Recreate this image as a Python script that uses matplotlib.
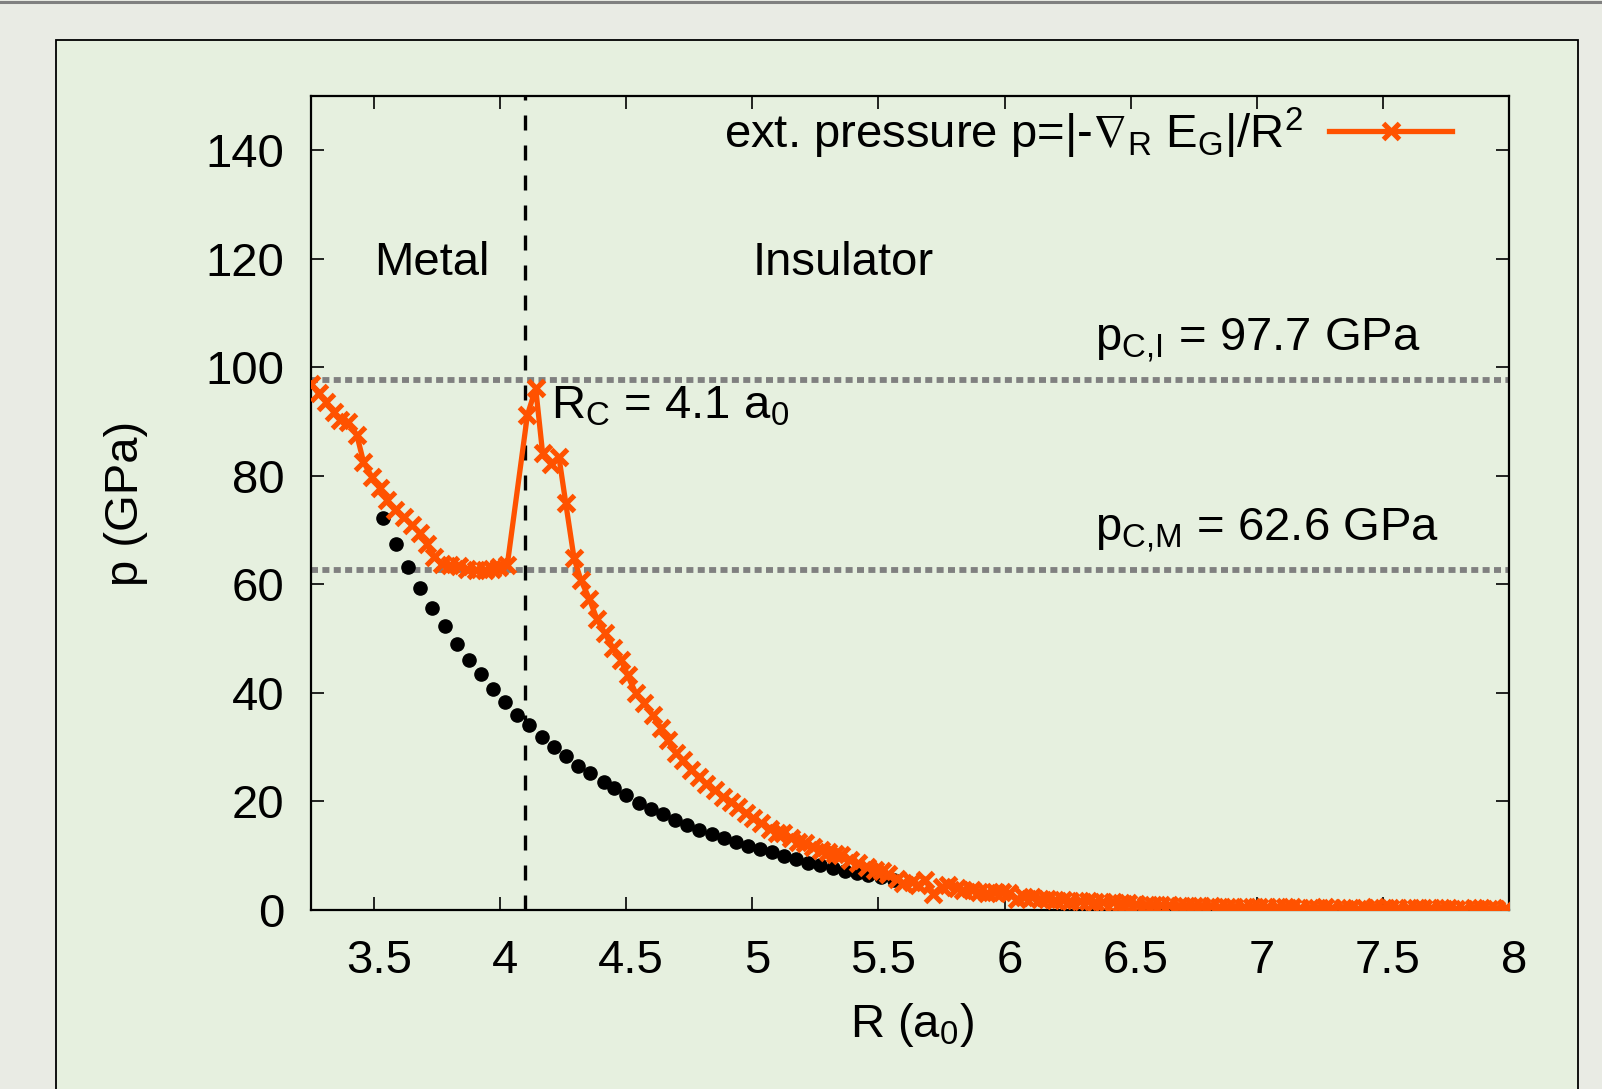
import matplotlib
matplotlib.use("Agg")
import matplotlib.pyplot as plt
from matplotlib import ticker
from matplotlib.patches import Rectangle
from matplotlib.lines import Line2D
from matplotlib.transforms import ScaledTranslation

plt.rcParams['font.family'] = ['Liberation Sans', 'DejaVu Sans']
plt.rcParams['mathtext.fontset'] = 'custom'
plt.rcParams['mathtext.rm'] = 'Liberation Sans'
plt.rcParams['mathtext.it'] = 'Liberation Sans'
plt.rcParams['mathtext.fallback'] = 'stixsans'

# pressure curve p = |-grad_R E_G| / R^2
r_p = [3.250, 3.280, 3.310, 3.340, 3.365, 3.398, 3.432, 3.458, 3.491, 3.524,
       3.551, 3.584, 3.617, 3.650, 3.683, 3.710, 3.736, 3.770, 3.803, 3.836,
       3.870, 3.905, 3.940, 3.968, 3.995, 4.028, 4.108, 4.141, 4.168, 4.202,
       4.233, 4.260, 4.293, 4.320, 4.353, 4.383, 4.415, 4.448, 4.479, 4.505,
       4.538, 4.571, 4.605, 4.638, 4.664, 4.697, 4.724, 4.757, 4.790, 4.817,
       4.850, 4.883, 4.916, 4.943, 4.976, 5.002, 5.036, 5.069, 5.096, 5.122,
       5.155, 5.182, 5.208, 5.241, 5.274, 5.300, 5.327, 5.353, 5.387, 5.420,
       5.453, 5.486, 5.512, 5.539, 5.572, 5.599, 5.632, 5.658, 5.685, 5.718,
       5.751, 5.777, 5.810, 5.837, 5.870, 5.897, 5.930, 5.963, 5.990, 6.016,
       6.050, 6.076, 6.109, 6.142, 6.169, 6.200, 6.230, 6.260, 6.300, 6.330,
       6.360, 6.390, 6.430, 6.460, 6.490, 6.520, 6.560, 6.590, 6.620, 6.650,
       6.690, 6.720, 6.750, 6.780, 6.820, 6.850, 6.880, 6.910, 6.950, 6.980,
       7.010, 7.040, 7.080, 7.110, 7.140, 7.170, 7.210, 7.240, 7.270, 7.300,
       7.340, 7.370, 7.400, 7.430, 7.470, 7.500, 7.530, 7.560, 7.600, 7.630,
       7.660, 7.690, 7.730, 7.760, 7.790, 7.820, 7.860, 7.890, 7.920, 7.950,
       7.990]
p_ext = [97.0, 95.2, 93.6, 91.8, 90.3, 89.9, 87.5, 82.6, 79.8, 77.7,
         75.5, 73.7, 72.4, 70.9, 69.4, 67.5, 65.1, 63.8, 63.5, 63.4,
         62.9, 62.7, 62.7, 62.9, 63.2, 63.5, 91.2, 96.1, 84.3, 82.2,
         83.5, 75.0, 64.8, 60.8, 57.4, 53.7, 51.0, 48.2, 46.1, 43.3,
         39.9, 38.1, 35.9, 33.5, 31.3, 28.9, 27.6, 25.8, 24.6, 23.3,
         22.1, 20.9, 19.9, 19.0, 17.8, 16.9, 16.0, 15.0, 14.1, 14.1,
         13.2, 12.6, 12.3, 11.7, 11.1, 10.7, 10.4, 10.1, 9.3, 8.6,
         8.0, 7.4, 7.1, 6.7, 5.8, 4.9, 5.2, 4.6, 5.5, 3.0,
         4.3, 4.6, 4.0, 3.7, 3.7, 3.4, 3.1, 3.4, 3.4, 3.1,
         2.1, 2.4, 2.4, 2.1, 2.1, 1.8, 1.8, 1.7, 1.6, 1.6,
         1.5, 1.5, 1.4, 1.3, 1.2, 1.1, 1.0, 1.0, 0.9, 0.9,
         0.8, 0.8, 0.7, 0.7, 0.7, 0.6, 0.6, 0.6, 0.6, 0.5,
         0.5, 0.5, 0.5, 0.5, 0.5, 0.4, 0.4, 0.4, 0.5, 0.3,
         0.4, 0.4, 0.2, 0.3, 0.5, 0.4, 0.4, 0.3, 0.3, 0.3,
         0.3, 0.3, 0.3, 0.3, 0.2, 0.2, 0.3, 0.3, 0.2, 0.2,
         0.3]

# black dotted reference curve
r_fit = [3.537, 3.587, 3.636, 3.683, 3.731, 3.780, 3.828, 3.877, 3.925, 3.972,
         4.020, 4.068, 4.116, 4.165, 4.212, 4.260, 4.309, 4.357, 4.410, 4.452,
         4.500, 4.549, 4.598, 4.646, 4.693, 4.741, 4.789, 4.838, 4.887, 4.935,
         4.982, 5.031, 5.079, 5.125, 5.174, 5.222, 5.270, 5.318, 5.367, 5.414,
         5.460, 5.510, 5.560]
p_fit = [72.2, 67.5, 63.2, 59.4, 55.7, 52.4, 49.1, 46.1, 43.4, 40.7,
         38.4, 36.0, 34.0, 31.9, 30.1, 28.4, 26.6, 25.2, 23.6, 22.4,
         21.1, 19.8, 18.7, 17.6, 16.6, 15.7, 14.8, 14.0, 13.2, 12.5,
         11.8, 11.2, 10.6, 9.9, 9.4, 8.7, 8.3, 7.8, 7.2, 6.8,
         6.4, 6.0, 5.6]

R_c = 4.1
p_CI = 97.7
p_CM = 62.6
x_ticks = [3.5, 4, 4.5, 5, 5.5, 6, 6.5, 7, 7.5, 8]
y_ticks = [0, 20, 40, 60, 80, 100, 120, 140]

bg_outer = '#e9ebe4'
bg_panel = '#e6f0df'
orange = '#ff5200'
FS = 34

fig = plt.figure(figsize=(16.02, 10.89), dpi=100, facecolor=bg_outer)
W, H = 1602, 1089

# panel behind the plot
fig.add_artist(Rectangle((55.5 / W, -0.05), (1578 - 55.5) / W, 1.05 - 40 / H,
                         transform=fig.transFigure, facecolor=bg_panel,
                         edgecolor='black', lw=1.3, zorder=0))
fig.add_artist(Line2D([0, 1], [1 - 1.5 / H, 1 - 1.5 / H], transform=fig.transFigure,
                      color='#808080', lw=2.2))

ax = fig.add_axes([311 / W, 1 - 910 / H, 1198 / W, 814 / H])
ax.set_facecolor(bg_panel)

ax.axhline(p_CI, color='#808080', lw=4.2, ls=(0, (1.2, 0.75)), zorder=1)
ax.axhline(p_CM, color='#808080', lw=4.2, ls=(0, (1.2, 0.75)), zorder=1)
ax.axvline(R_c, color='black', lw=2.4, ls=(0, (4.5, 4.5)), zorder=1)

ax.plot(r_fit, p_fit, 'o', color='black', ms=9.5, zorder=2)
ax.plot(r_p, p_ext, '-x', color=orange, lw=3.8, ms=11.5, mew=3.7, zorder=3,
        label=r'ext. pressure p=|-$\nabla_{\rm R}$ E$_{\rm G}$|/R$^{2}$')

ax.set_xlim(3.25, 8)
ax.set_ylim(0, 150)
ax.set_xticks(x_ticks)
ax.set_yticks(y_ticks)
ax.xaxis.set_major_formatter(ticker.FormatStrFormatter('%g'))
ax.tick_params(direction='in', length=9.5, width=1.2, top=True, right=True,
               labelsize=FS)
ax.tick_params(axis='x', pad=21)
ax.tick_params(axis='y', pad=19)
for s in ax.spines.values():
    s.set_linewidth(1.6)

# gnuplot puts the x labels a little right of the tick
shift = ScaledTranslation(5 / 100, 0, fig.dpi_scale_trans)
for lab in ax.get_xticklabels():
    lab.set_transform(lab.get_transform() + shift)

fig.text(126 / W, 1 - 503 / H, 'p (GPa)', rotation=90, ha='center', va='center',
         fontsize=FS)
fig.text(912 / W, 1 - 1037 / H, 'R (a$_0$)', ha='center', va='baseline', fontsize=FS)

ax.text(3.5, 117, 'Metal', fontsize=FS, va='baseline')
ax.text(5.0, 117, 'Insulator', fontsize=FS, va='baseline')
ax.text(6.36, 103, r'p$_{\rm C{,}I}$ = 97.7 GPa', fontsize=FS, va='baseline')
ax.text(6.36, 68, r'p$_{\rm C{,}M}$ = 62.6 GPa', fontsize=FS, va='baseline')
ax.text(4.2, 90.5, r'R$_{\rm C}$ = 4.1 a$_0$', fontsize=FS, va='baseline')

leg = ax.legend(loc='center right', bbox_to_anchor=(0.9524, 0.9545), frameon=False,
                markerfirst=False, numpoints=1, handlelength=2.6, handletextpad=0.55,
                borderpad=0, borderaxespad=0, fontsize=FS)

fig.savefig('out.png', dpi=100, facecolor=fig.get_facecolor())
